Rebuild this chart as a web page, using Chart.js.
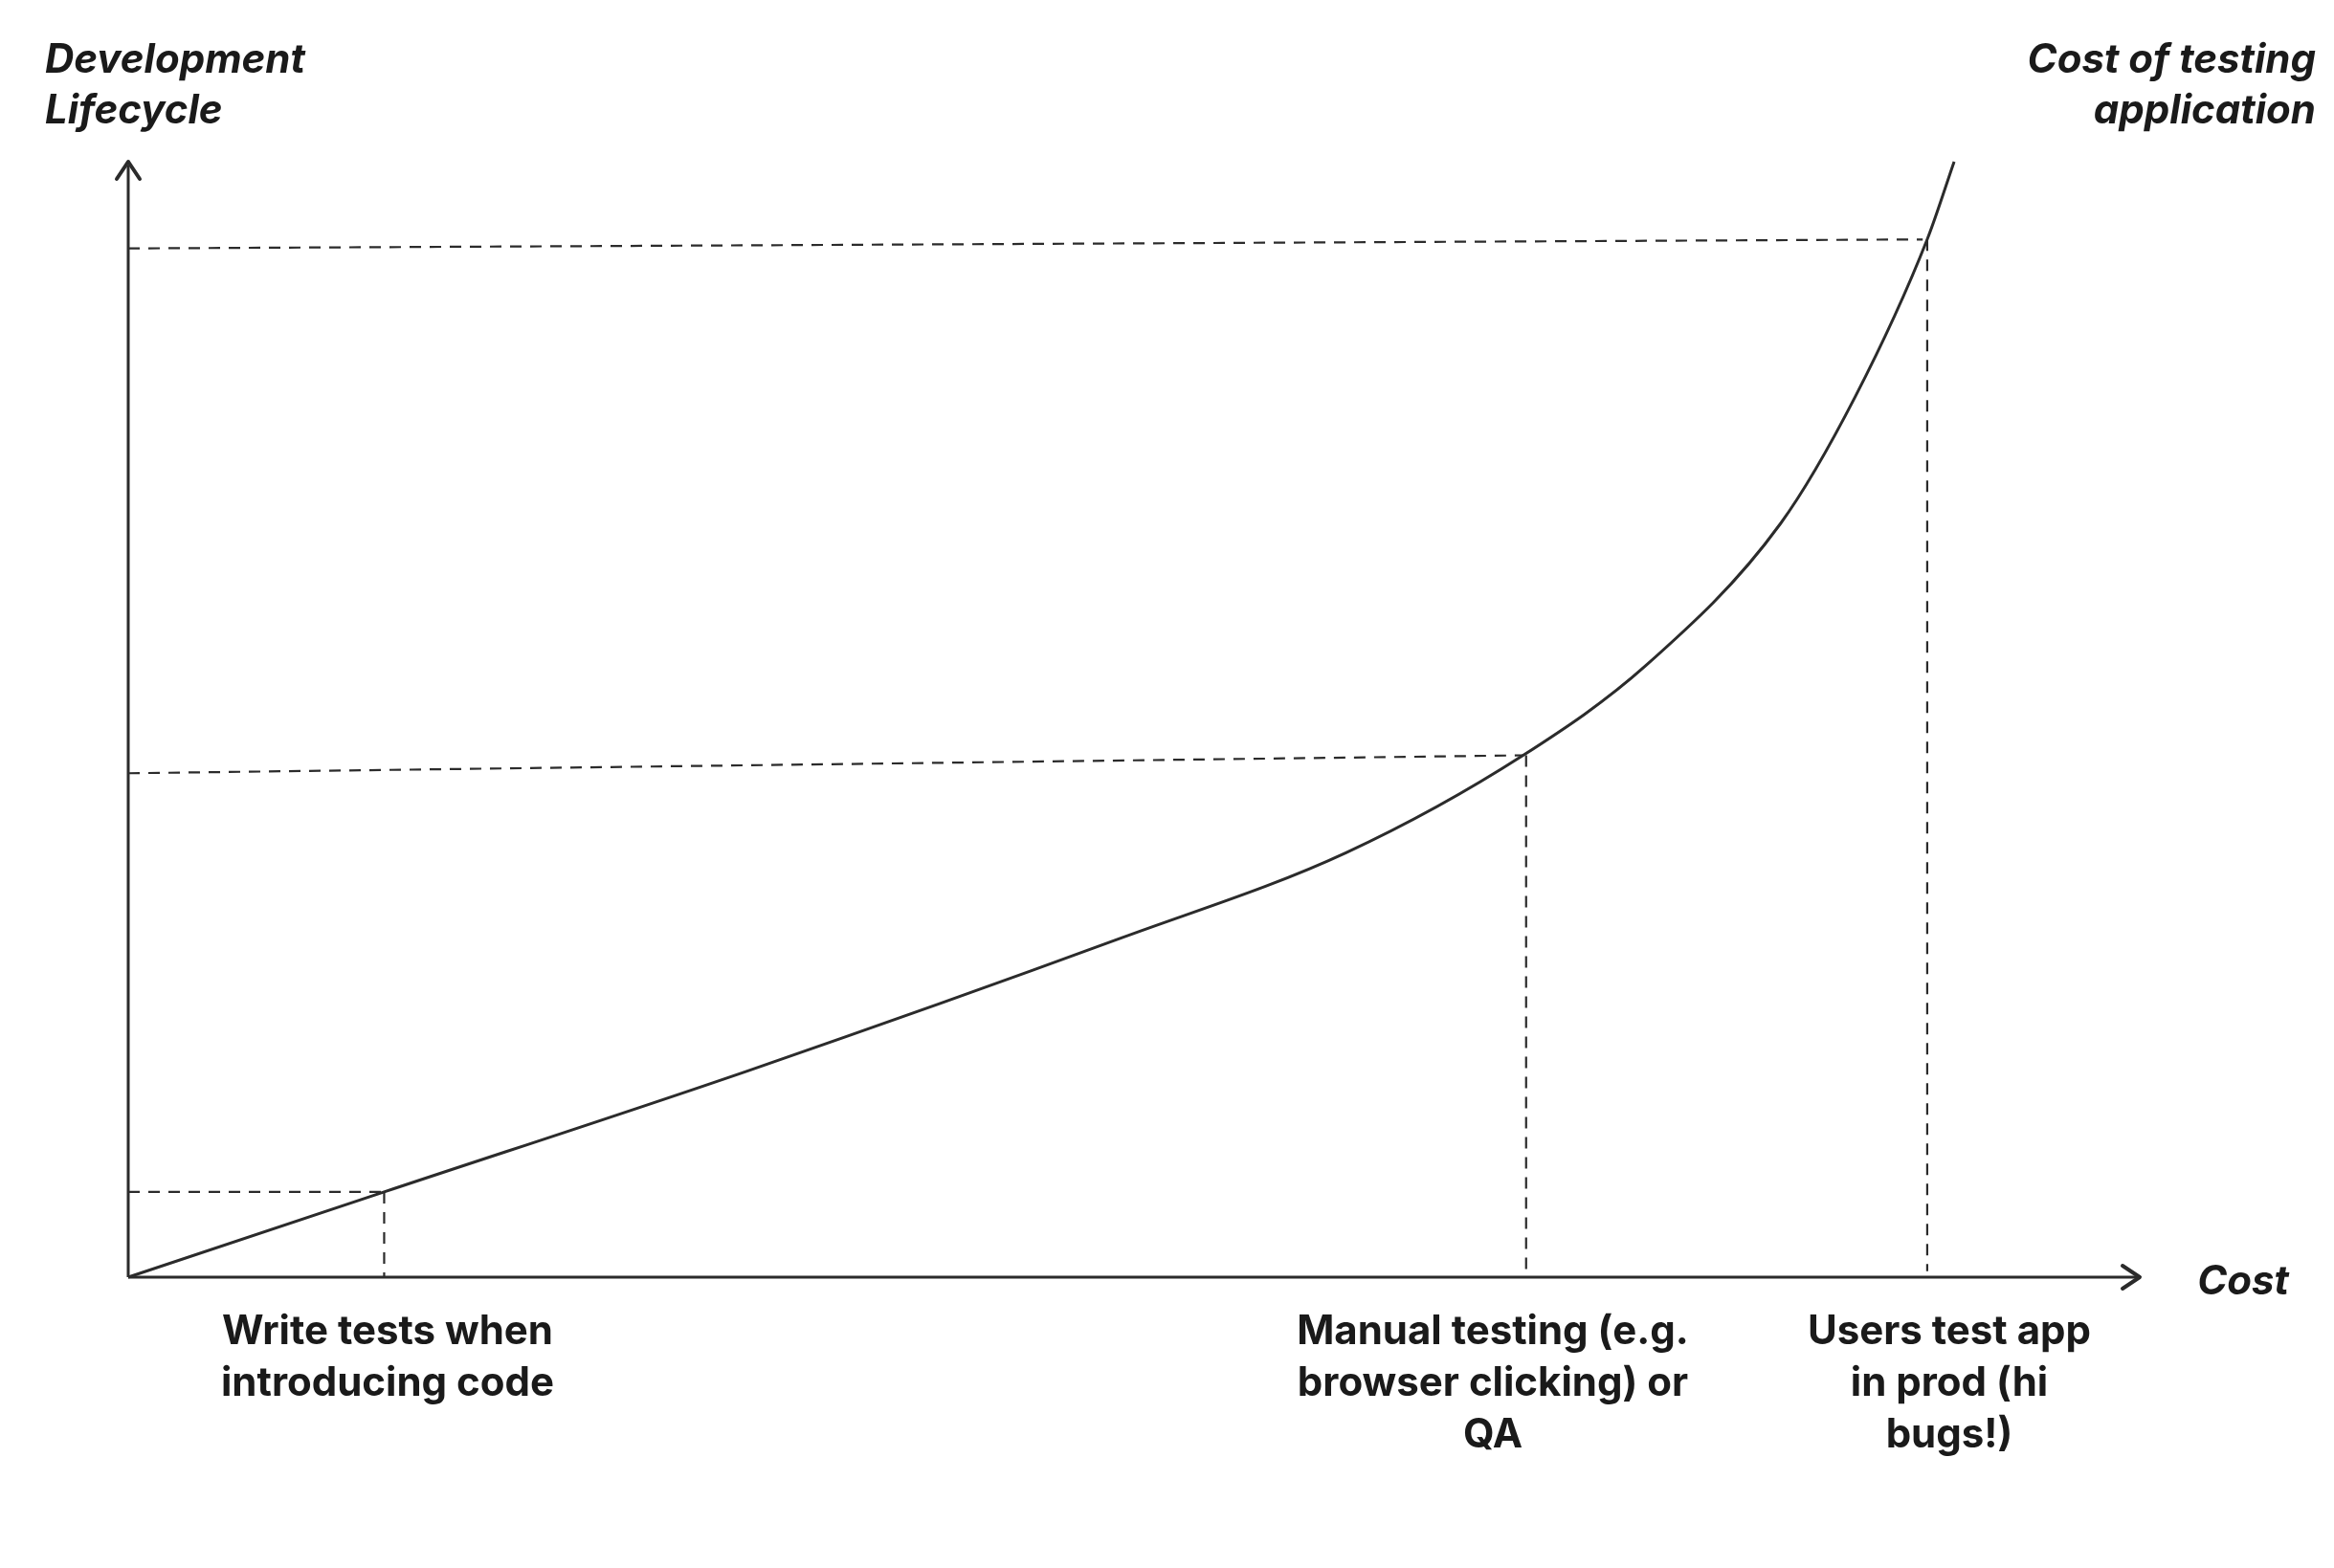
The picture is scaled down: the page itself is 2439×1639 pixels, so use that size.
<!DOCTYPE html>
<html>
<head>
<meta charset="utf-8">
<script src="https://cdn.jsdelivr.net/npm/chart.js@4"></script>
<style>
  html, body { margin: 0; padding: 0; background: #fff; }
  #wrap { width: 2439px; height: 1639px; }
</style>
</head>
<body>
<div id="wrap"><canvas id="c"></canvas></div>
<script>
// cost curve, in axis units (x = cost, y = lifecycle)
const curveX = [0, 171, 414, 664, 814, 932, 1014, 1104, 1154, 1202, 1220];
const curveY = [0, 57, 138, 227, 284, 349, 409, 504, 589, 694, 746];

// dashed guide lines: [x1, y1, x2, y2]
const guides = [
  [0, 57, 171, 57], [171, 57, 171, 0],
  [0, 337, 932, 349], [934, 349, 934, 0],
  [0, 688, 1199, 694], [1202, 694, 1202, 4]
];

const stageX = [171, 934, 1202];
const stageLabels = [
  ['Write tests when', 'introducing code'],
  ['Manual testing (e.g.', 'browser clicking) or', 'QA'],
  ['Users test app', 'in prod (hi', 'bugs!)']
];
const stageCenters = [405, 1560, 2037];

const ink = '#2b2b2b';
const datasets = [{
  data: curveX.map((x, i) => ({ x: x, y: curveY[i] })),
  borderColor: ink, borderWidth: 3, pointRadius: 0, tension: 0.4, cubicInterpolationMode: 'monotone', clip: false
}];
guides.forEach((g) => {
  datasets.push({
    data: [{ x: g[0], y: g[1] }, { x: g[2], y: g[3] }],
    borderColor: ink, borderWidth: 2.2, borderDash: [12, 9], pointRadius: 0, clip: false
  });
});

const annotate = {
  id: 'annotate',
  afterDraw(chart) {
    const ctx = chart.ctx;
    const a = chart.chartArea;
    ctx.save();
    ctx.strokeStyle = ink;
    ctx.fillStyle = ink;
    ctx.lineWidth = 3;
    // axes
    ctx.beginPath();
    ctx.moveTo(a.left, a.bottom); ctx.lineTo(a.right, a.bottom);
    ctx.moveTo(a.left, a.bottom); ctx.lineTo(a.left, a.top + 4);
    ctx.stroke();
    ctx.lineWidth = 4;
    ctx.lineCap = 'round';
    ctx.lineJoin = 'round';
    ctx.beginPath();
    ctx.moveTo(a.right - 18, a.bottom - 12); ctx.lineTo(a.right, a.bottom); ctx.lineTo(a.right - 18, a.bottom + 12);
    ctx.moveTo(a.left - 12, a.top + 18); ctx.lineTo(a.left, a.top); ctx.lineTo(a.left + 12, a.top + 18);
    ctx.stroke();

    ctx.fillStyle = '#1a1a1a';
    ctx.textBaseline = 'middle';
    ctx.font = 'italic 700 42px Inter, "Noto Sans", sans-serif';
    ctx.textAlign = 'left';
    ctx.fillText('Development', 47, 63);
    ctx.fillText('Lifecycle', 47, 116);
    ctx.textAlign = 'right';
    ctx.fillText('Cost of testing', 2420, 63);
    ctx.fillText('application', 2420, 116);
    ctx.fillText('Cost', 2392, 1340);

    ctx.font = '700 42px Inter, "Noto Sans", sans-serif';
    ctx.textAlign = 'center';
    stageLabels.forEach((lines, i) => {
      lines.forEach((t, j) => ctx.fillText(t, stageCenters[i], 1392 + j * 54));
    });
    ctx.restore();
  }
};

new Chart(document.getElementById('c'), {
  type: 'line',
  data: { datasets: datasets },
  options: {
    responsive: true,
    maintainAspectRatio: false,
    animation: false,
    layout: { padding: { left: 134, right: 203, top: 169, bottom: 304 } },
    scales: {
      x: { type: 'linear', min: 0, max: 1344, display: false },
      y: { min: 0, max: 746, display: false }
    },
    plugins: { legend: { display: false }, tooltip: { enabled: false } }
  },
  plugins: [annotate]
});
</script>
</body>
</html>
